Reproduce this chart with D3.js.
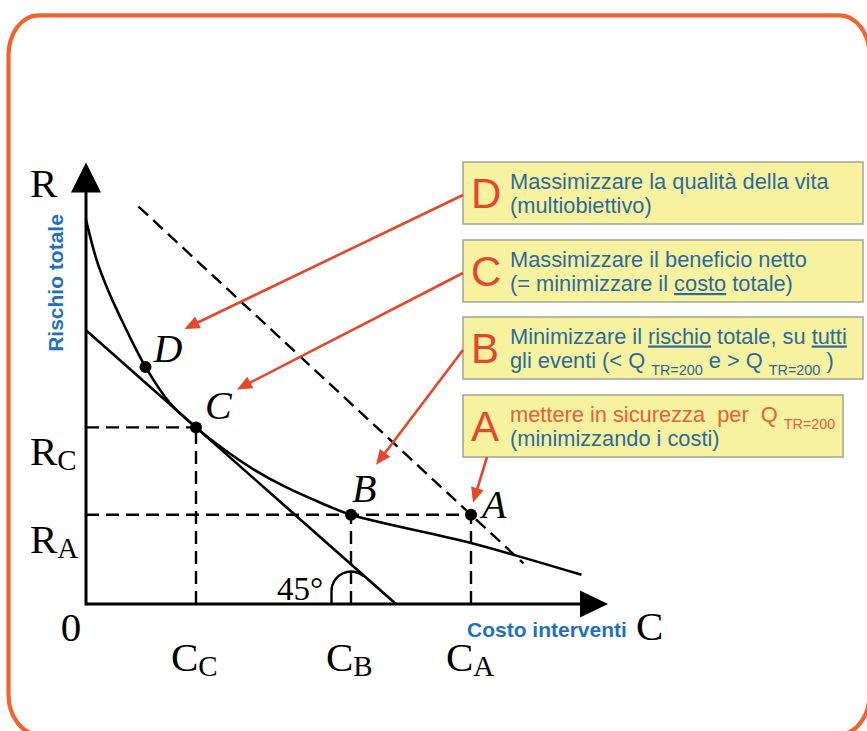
<!DOCTYPE html>
<html>
<head>
<meta charset="utf-8">
<script src="https://cdn.jsdelivr.net/npm/d3@7"></script>
<style>
  html, body { margin: 0; padding: 0; background: #fff; overflow: hidden; }
  svg { display: block; }
</style>
</head>
<body>
<svg id="chart" width="867" height="731"></svg>
<script>
// Curva del rischio totale R in funzione del costo degli interventi C (unità arbitrarie)
const curveCost = [0, 2.1, 4.1, 6.8, 11.9, 16.8, 22, 27.5, 33.5, 40.1, 46.8, 53, 77, 99.1];
const curveRisk = [87, 78, 71.9, 65.1, 53.7, 45.5, 40, 35.1, 30.5, 26.4, 23.0, 20.2, 13.8, 6.6];

// Punti notevoli
const pointNames = ["D", "C", "B", "A"];
const pointCost  = [11.9, 22, 53, 77];
const pointRisk  = [53.7, 40, 20.2, 20.2];

// Retta a 45° tangente in C (costo totale costante) e retta tratteggiata per A
const tangentCost = [0, 62];
const tangentRisk = [62, 0];
const isoCost = [10.5, 87.5];
const isoRisk = [90, 9.2];

// Etichette sugli assi
const costTickValues = [22, 53, 77];
const costTickSubs   = ["C", "B", "A"];
const riskTickValues = [40, 20.2];
const riskTickSubs   = ["C", "A"];
const axisMax = [104.4, 100];

// Riquadri degli obiettivi
const goalLetters = ["D", "C", "B", "A"];
const goalLine1 = [
  [["Massimizzare la qualità della vita", ""]],
  [["Massimizzare il beneficio netto", ""]],
  [["Minimizzare il ", ""], ["rischio", "u"], [" totale, su ", ""], ["tutti", "u"]],
  [["mettere in sicurezza  per  Q ", "r"], ["TR=200", "rs"]]
];
const goalLine2 = [
  [["(multiobiettivo)", ""]],
  [["(= minimizzare il ", ""], ["costo", "u"], [" totale)", ""]],
  [["gli eventi (< Q ", ""], ["TR=200", "s"], [" e > Q ", ""], ["TR=200", "s"], [" )", ""]],
  [["(minimizzando i costi)", ""]]
];

// ---------------------------------------------------------------
const svg = d3.select("#chart");
const SERIF = "'Liberation Serif', 'Times New Roman', serif";
const SANS = "'Liberation Sans', Arial, Helvetica, sans-serif";
const RED = "#E5472B";
const ORANGE_RED = "#E9603A";
const BOX_BLUE = "#2B6B9A";
const AXIS_BLUE = "#1F70BE";

const x = d3.scaleLinear().domain([0, 100]).range([86, 586]);
const y = d3.scaleLinear().domain([0, 100]).range([604, 162.5]);

// cornice arrotondata
svg.append("rect")
  .attr("x", 8.5).attr("y", 15.3)
  .attr("width", 861).attr("height", 719)
  .attr("rx", 30).attr("ry", 40)
  .attr("fill", "none").attr("stroke", "#F26330").attr("stroke-width", 4.2);

const plot = svg.append("g");

// linee di riferimento tratteggiate
const dash = "13,7";
const refLines = [
  [[0, pointRisk[1]], [pointCost[1], pointRisk[1]]],
  [[0, pointRisk[3]], [pointCost[3], pointRisk[3]]],
  [[pointCost[1], 0], [pointCost[1], pointRisk[1]]],
  [[pointCost[2], 0], [pointCost[2], pointRisk[2]]],
  [[pointCost[3], 0], [pointCost[3], pointRisk[3]]]
];
plot.selectAll("line.ref").data(refLines).join("line")
  .attr("class", "ref")
  .attr("x1", d => x(d[0][0])).attr("y1", d => y(d[0][1]))
  .attr("x2", d => x(d[1][0])).attr("y2", d => y(d[1][1]))
  .attr("stroke", "#000").attr("stroke-width", 2.4)
  .attr("stroke-dasharray", dash);

plot.append("line")
  .attr("x1", x(isoCost[0])).attr("y1", y(isoRisk[0]))
  .attr("x2", x(isoCost[1])).attr("y2", y(isoRisk[1]))
  .attr("stroke", "#000").attr("stroke-width", 2.4)
  .attr("stroke-dasharray", dash);

// retta tangente
plot.append("line")
  .attr("x1", x(tangentCost[0])).attr("y1", y(tangentRisk[0]))
  .attr("x2", x(tangentCost[1])).attr("y2", y(tangentRisk[1]))
  .attr("stroke", "#000").attr("stroke-width", 2.6);

// curva del rischio totale
const curveData = curveCost.map((c, i) => [c, curveRisk[i]]);
plot.append("path")
  .datum(curveData)
  .attr("d", d3.line().x(d => x(d[0])).y(d => y(d[1])).curve(d3.curveCatmullRom.alpha(0.5)))
  .attr("fill", "none").attr("stroke", "#000").attr("stroke-width", 2.6);

// assi con frecce
const ox = x(0), oy = y(0);
const xTip = x(axisMax[0]), yTip = y(axisMax[1]);
plot.append("line").attr("x1", ox).attr("y1", oy).attr("x2", xTip - 20).attr("y2", oy)
  .attr("stroke", "#000").attr("stroke-width", 3);
plot.append("line").attr("x1", ox).attr("y1", oy + 1.5).attr("x2", ox).attr("y2", yTip + 20)
  .attr("stroke", "#000").attr("stroke-width", 3);
plot.append("path")
  .attr("d", `M${xTip},${oy} L${xTip - 28},${oy - 13.5} L${xTip - 28},${oy + 13.5} Z`)
  .attr("fill", "#000");
plot.append("path")
  .attr("d", `M${ox},${yTip} L${ox - 15},${yTip + 30} L${ox + 15},${yTip + 30} Z`)
  .attr("fill", "#000");

// segno dell'angolo di 45° accanto a C_B
{
  const cx = x(pointCost[2]), cy = oy - 13, r = 19.5;
  const p = d3.path();
  p.moveTo(cx - r, oy);
  p.lineTo(cx - r, cy);
  p.arc(cx, cy, r, Math.PI, 2 * Math.PI - 0.848, false);
  plot.append("path").attr("d", p.toString())
    .attr("fill", "none").attr("stroke", "#000").attr("stroke-width", 2.4);
  plot.append("text")
    .attr("x", cx - 74).attr("y", oy - 4)
    .attr("font-family", SERIF).attr("font-size", 33)
    .text("45°");
}

// punti
plot.selectAll("circle.pt").data(pointNames).join("circle")
  .attr("class", "pt")
  .attr("cx", (d, i) => x(pointCost[i]))
  .attr("cy", (d, i) => y(pointRisk[i]))
  .attr("r", 6).attr("fill", "#000");

// etichette dei punti (corsivo)
const labelOffset = [[8, -5], [9, -8], [1, -13], [11, 3]];
plot.selectAll("text.ptl").data(pointNames).join("text")
  .attr("class", "ptl")
  .attr("x", (d, i) => x(pointCost[i]) + labelOffset[i][0])
  .attr("y", (d, i) => y(pointRisk[i]) + labelOffset[i][1])
  .attr("font-family", SERIF).attr("font-style", "italic").attr("font-size", 40)
  .text(d => d);

// etichette con pedice sugli assi
function subLabel(g, px, py, main, sub) {
  const t = g.append("text").attr("x", px).attr("y", py)
    .attr("font-family", SERIF).attr("font-size", 41).attr("fill", "#000");
  t.append("tspan").text(main);
  t.append("tspan").attr("font-size", 29).attr("dy", 5).text(sub);
}
costTickValues.forEach((v, i) => subLabel(plot, x(v) - 25, 671, "C", costTickSubs[i]));
riskTickValues.forEach((v, i) => subLabel(plot, 30, y(v) + 38, "R", riskTickSubs[i]));

plot.append("text").attr("x", 30).attr("y", 197)
  .attr("font-family", SERIF).attr("font-size", 41).text("R");
plot.append("text").attr("x", 636).attr("y", 640)
  .attr("font-family", SERIF).attr("font-size", 41).text("C");
plot.append("text").attr("x", 71).attr("y", 641).attr("text-anchor", "middle")
  .attr("font-family", SERIF).attr("font-size", 41).text("0");

plot.append("text")
  .attr("transform", "translate(63,283) rotate(-90)")
  .attr("text-anchor", "middle")
  .attr("font-family", SANS).attr("font-weight", "bold").attr("font-size", 21)
  .attr("fill", AXIS_BLUE)
  .text("Rischio totale");
plot.append("text")
  .attr("x", 467).attr("y", 637)
  .attr("font-family", SANS).attr("font-weight", "bold").attr("font-size", 21)
  .attr("fill", AXIS_BLUE)
  .text("Costo interventi");

// riquadri degli obiettivi
const boxTop = [162, 240, 317, 395];
const boxW = [400, 400, 400, 380];
const boxH = 62, boxX = 463;
const boxes = svg.append("g");
goalLetters.forEach((letter, i) => {
  const g = boxes.append("g").attr("transform", `translate(${boxX},${boxTop[i]})`);
  g.append("rect").attr("width", boxW[i]).attr("height", boxH)
    .attr("fill", "#F7F29F").attr("stroke", "#A3A393").attr("stroke-width", 1.5);
  g.append("text").attr("x", 8).attr("y", boxH / 2 + 15)
    .attr("font-family", SANS).attr("font-size", 42).attr("fill", RED)
    .text(letter);
  [goalLine1[i], goalLine2[i]].forEach((segs, k) => {
    const t = g.append("text")
      .attr("x", 47).attr("y", k === 0 ? 26.5 : 51)
      .attr("xml:space", "preserve")
      .attr("font-family", SANS).attr("font-size", 21.8).attr("fill", BOX_BLUE);
    let shift = 0;
    segs.forEach(([txt, kind]) => {
      const ts = t.append("tspan").text(txt);
      const isSub = kind.includes("s");
      const target = isSub ? 7 : 0;
      if (target !== shift) { ts.attr("dy", target - shift); shift = target; }
      if (isSub) ts.attr("font-size", 14.4);
      if (kind.includes("u")) ts.style("text-decoration", "underline");
      if (kind.includes("r")) ts.attr("fill", ORANGE_RED);
    });
  });
});

// frecce rosse dai riquadri verso i punti
const arrowStart = [
  [boxX, boxTop[0] + 33], [boxX, boxTop[1] + 33],
  [boxX, boxTop[2] + 33], [boxX + 24, boxTop[3] + boxH]
];
const arrowTipOffset = [[39, -38], [41, -38], [25, -50], [2, -12]];
const arrows = svg.append("g");
pointNames.forEach((n, i) => {
  const [x1, y1] = arrowStart[i];
  const x2 = x(pointCost[i]) + arrowTipOffset[i][0];
  const y2 = y(pointRisk[i]) + arrowTipOffset[i][1];
  const ang = Math.atan2(y2 - y1, x2 - x1);
  const L = 15, Wd = 6.5;
  const bx = x2 - L * Math.cos(ang), by = y2 - L * Math.sin(ang);
  arrows.append("line")
    .attr("x1", x1).attr("y1", y1).attr("x2", bx + 2 * Math.cos(ang)).attr("y2", by + 2 * Math.sin(ang))
    .attr("stroke", RED).attr("stroke-width", 2.6);
  const nx = -Math.sin(ang), ny = Math.cos(ang);
  arrows.append("path")
    .attr("d", `M${x2},${y2} L${bx + Wd * nx},${by + Wd * ny} L${bx - Wd * nx},${by - Wd * ny} Z`)
    .attr("fill", RED);
});
</script>
</body>
</html>
